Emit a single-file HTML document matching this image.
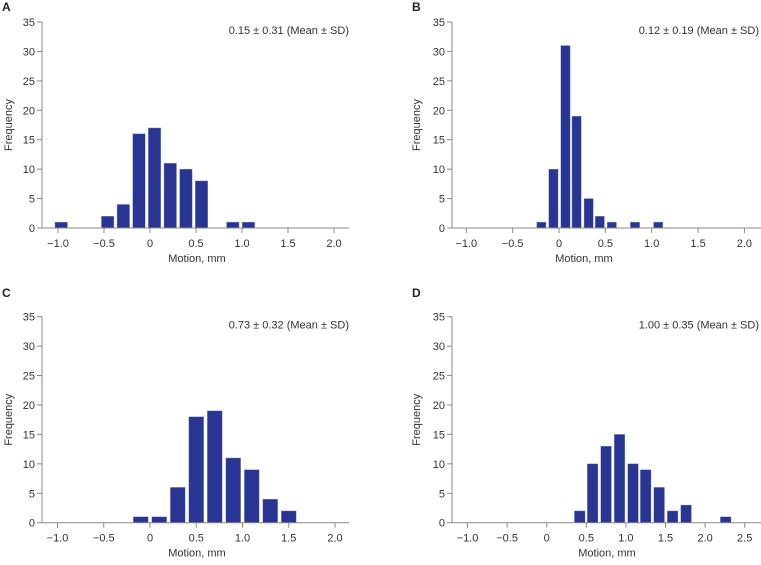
<!DOCTYPE html>
<html><head><meta charset="utf-8"><style>
html,body{margin:0;padding:0;background:#fff;width:761px;height:565px;overflow:hidden}
svg{display:block;font-family:"Liberation Sans",sans-serif}
</style></head><body>
<svg id="c" width="761" height="565"></svg>
<script>
const yTicks = [0,5,10,15,20,25,30,35];
const aCenters = [-0.965,-0.46,-0.29,-0.12,0.05,0.22,0.39,0.56,0.90,1.07];
const aCounts = [1,2,4,16,17,11,10,8,1,1];
const bCenters = [-0.19,-0.06,0.07,0.19,0.32,0.44,0.57,0.82,1.07];
const bCounts = [1,10,31,19,5,2,1,1,1];
const cCenters = [-0.10,0.10,0.30,0.50,0.70,0.90,1.10,1.30,1.50];
const cCounts = [1,1,6,18,19,11,9,4,2];
const dCenters = [0.417,0.58,0.75,0.92,1.09,1.25,1.42,1.59,1.76,2.26];
const dCounts = [2,10,13,15,10,9,6,2,3,1];
const xTicksABC = [-1.0,-0.5,0,0.5,1.0,1.5,2.0];
const xTicksD = [-1.0,-0.5,0,0.5,1.0,1.5,2.0,2.5];
const annotations = ["0.15 \u00b1 0.31 (Mean \u00b1 SD)","0.12 \u00b1 0.19 (Mean \u00b1 SD)","0.73 \u00b1 0.32 (Mean \u00b1 SD)","1.00 \u00b1 0.35 (Mean \u00b1 SD)"];
const letters = ["A","B","C","D"];

const NS="http://www.w3.org/2000/svg";
const svg=document.getElementById('c');
function mk(tag,attrs,parent){const e=document.createElementNS(NS,tag);for(const k in attrs)e.setAttribute(k,attrs[k]);(parent||svg).appendChild(e);return e;}
function fmt(v){if(v===0)return "0";return (v<0?"\u22121.0".slice(0,1)+Math.abs(v).toFixed(1):v.toFixed(1));}

const panels=[
 {ox:0,oy:0,axX:42,x0:150,unit:92,xEnd:349,y0:228,y35:22,bw:0.17,centers:aCenters,counts:aCounts,ticks:xTicksABC,lx:2,ly:11,fx:12,mx:197,annX:349},
 {ox:380,oy:0,axX:72,x0:179,unit:92.7,xEnd:381,y0:228,y35:22,bw:0.125,centers:bCenters,counts:bCounts,ticks:xTicksABC,lx:32,ly:11,fx:40,mx:204,annX:379},
 {ox:0,oy:300,axX:42,x0:150,unit:92.5,xEnd:349,y0:222.7,y35:16.7,bw:0.2,centers:cCenters,counts:cCounts,ticks:xTicksABC,lx:2,ly:-3,fx:12,mx:197,annX:349},
 {ox:380,oy:300,axX:72,x0:166.7,unit:79.2,xEnd:381,y0:222.7,y35:16.7,bw:0.168,centers:dCenters,counts:dCounts,ticks:xTicksD,lx:32,ly:-3,fx:40,mx:227,annX:379}
];
panels.forEach((p,i)=>{
 const g=mk('g',{transform:`translate(${p.ox},${p.oy})`});
 
 
 const X=v=>p.x0+v*p.unit;
 const Y=v=>p.y0-(v/35)*(p.y0-p.y35);
 const lt=mk('text',{x:p.lx,y:p.ly,'font-size':12,'font-weight':'bold',fill:'#222'},g);lt.textContent=letters[i];
 
 
 // bars
 const bwPx=p.bw*p.unit*0.8;
 p.centers.forEach((c,j)=>{
  const r=mk('rect',{x:X(c)-bwPx/2,y:Y(p.counts[j]),width:bwPx,height:p.y0-Y(p.counts[j]),fill:'#283593',stroke:'#8d97c9','stroke-width':0.4},g);
  
  
 });
 // axes
 const ya=mk('line',{x1:p.axX,y1:p.y35,x2:p.axX,y2:p.y0,stroke:'#888','stroke-width':1},g);
 
 
 const xa=mk('line',{x1:p.axX,y1:p.y0,x2:p.xEnd,y2:p.y0,stroke:'#888','stroke-width':1},g);
 
 
 yTicks.forEach(t=>{
  mk('line',{x1:p.axX-5,y1:Y(t),x2:p.axX,y2:Y(t),stroke:'#888'},g);
  const tx=mk('text',{x:p.axX-7,y:Y(t)+4,'font-size':11,'text-anchor':'end',fill:'#333'},g);tx.textContent=t;
  
  
 });
 p.ticks.forEach(t=>{
  mk('line',{x1:X(t),y1:p.y0,x2:X(t),y2:p.y0+5,stroke:'#888'},g);
  const tx=mk('text',{x:X(t),y:p.y0+19,'font-size':11,'text-anchor':'middle',fill:'#333'},g);
  tx.textContent=t===0?"0":(t<0?"\u2212":"")+Math.abs(t).toFixed(1);
  
  
 });
 const fy=(p.y0+p.y35)/2;
 const fl=mk('text',{x:p.fx,y:fy,'font-size':11,'text-anchor':'middle',fill:'#333',transform:`rotate(-90 ${p.fx} ${fy})`},g);fl.textContent='Frequency';
 
 
 const ml=mk('text',{x:p.mx,y:p.y0+34,'font-size':11,'text-anchor':'middle',fill:'#333'},g);ml.textContent='Motion, mm';
 
 
 const an=mk('text',{x:p.annX,y:p.y35+12,'font-size':11,'text-anchor':'end',fill:'#333'},g);an.textContent=annotations[i];
 
 
});
</script>
</body></html>
